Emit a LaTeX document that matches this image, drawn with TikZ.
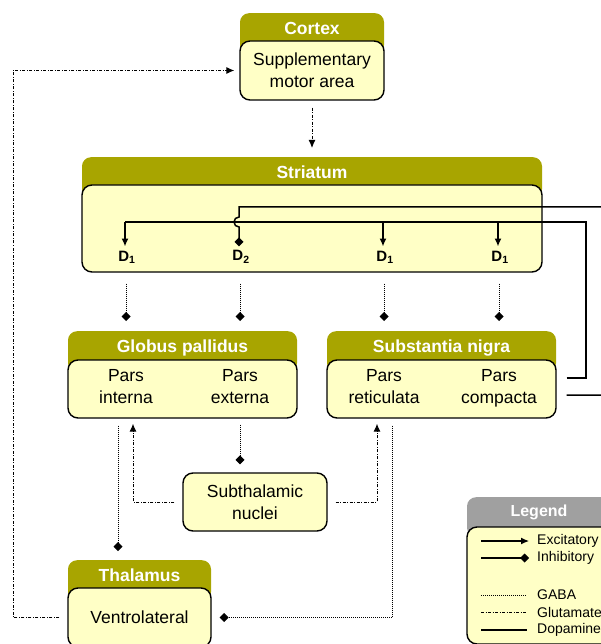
\documentclass[tikz,border=0pt]{standalone}
\usepackage{fontspec}
\setmainfont{Liberation Sans}
\usetikzlibrary{arrows.meta,positioning}
\definecolor{hdrolive}{RGB}{168,165,0}
\definecolor{boxyellow}{RGB}{255,255,198}
\definecolor{leggray}{RGB}{160,160,160}

\begin{document}
\begin{tikzpicture}[x=1pt,y=-1pt,
    hdr/.style={fill=hdrolive, rounded corners=9pt, anchor=north, inner sep=0pt,
      text height=21pt, text depth=20pt, text=white,
      font=\bfseries\fontsize{17.5}{20}\selectfont},
    regionbox/.style={draw=black, line width=1.4pt, fill=boxyellow, rounded corners=10pt,
      align=center, inner sep=0pt, font=\fontsize{17.5}{22}\selectfont},
    partlbl/.style={anchor=north, align=center, inner sep=0pt, font=\fontsize{17.5}{22}\selectfont},
    rcpt/.style={inner sep=0pt, font=\bfseries\fontsize{15}{17}\selectfont},
    legtxt/.style={anchor=west, inner sep=0pt, font=\fontsize{14}{16}\selectfont},
    gaba/.style={line width=1pt, dash pattern=on 1pt off 1pt},
    glu/.style={line width=1pt, dash pattern=on 3pt off 1.5pt on 1pt off 1.5pt},
    dop/.style={line width=1.5pt},
    exc/.style={-{Latex[length=8pt,width=7pt]}},
    inh/.style={-{Diamond[length=9pt,width=9pt]}}
  ]
  \useasboundingbox (0,0) rectangle (601,644);
  \clip (0,0) rectangle (601,644);

  \node[hdr, minimum width=144pt] (ctxhead) at (312,13) {Cortex};
  \node[regionbox, minimum width=144pt, minimum height=59pt] (ctx) at (312,70.5) {Supplementary\\motor area};

  \node[hdr, minimum width=460pt] (strhead) at (312,157) {Striatum};
  \node[regionbox, minimum width=460pt, minimum height=87pt] (str) at (312,228.5) {};
  \node[rcpt] (d1a) at (127,257) {D\textsubscript{1}};
  \node[rcpt] (d2)  at (241,257) {D\textsubscript{2}};
  \node[rcpt] (d1b) at (385,257) {D\textsubscript{1}};
  \node[rcpt] (d1c) at (500,257) {D\textsubscript{1}};

  \node[hdr, minimum width=229pt] (gphead) at (182.5,331) {Globus pallidus};
  \node[regionbox, minimum width=229pt, minimum height=58pt] (gp) at (182.5,389) {};
  \node[partlbl] (gpi) at (126,369) {Pars\\interna};
  \node[partlbl] (gpe) at (240,369) {Pars\\externa};

  \node[hdr, minimum width=229pt] (snhead) at (441.5,331) {Substantia nigra};
  \node[regionbox, minimum width=229pt, minimum height=58pt] (sn) at (441.5,389) {};
  \node[partlbl] (snr) at (384,369) {Pars\\reticulata};
  \node[partlbl] (snc) at (499,369) {Pars\\compacta};

  \node[regionbox, minimum width=144pt, minimum height=58pt] (stn) at (255,502) {Subthalamic\\nuclei};

  \node[hdr, minimum width=143pt] (thhead) at (139.5,560) {Thalamus};
  \node[regionbox, minimum width=143pt, minimum height=59pt] (th) at (139.5,617.5) {Ventrolateral};

  \node[hdr, fill=leggray, minimum width=144pt, text height=19.5pt,
    font=\bfseries\fontsize{16}{18}\selectfont] (leghead) at (539,497) {Legend};
  \node[regionbox, minimum width=144pt, minimum height=117pt] (leg) at (539,585.5) {};
  \node[legtxt] (lexc)  at (537,541) {Excitatory};
  \node[legtxt] (linh)  at (537,558) {Inhibitory};
  \node[legtxt] (lgaba) at (537,595) {GABA};
  \node[legtxt] (lglu)  at (537,612) {Glutamate};
  \node[legtxt] (ldop)  at (537,630) {Dopamine};

  \coordinate (dalow) at (586,222);
  \coordinate (daout) at (615,207);

  \draw[glu,exc] ([xshift=-8pt]th.west) -| ([xshift=-226pt]ctx.west) -- ([xshift=-5pt]ctx.west);
  \draw[glu,exc] ([yshift=-7pt]ctx.south) -- ([yshift=9pt]strhead.north);

  \draw[dop] ([shift={(10pt,11pt)}]sn.east) -| (dalow) -- ([xshift=-2pt]d1a |- dalow);
  \foreach \d in {d1a,d1b,d1c}
    \draw[dop,exc] ([xshift=-2pt]\d |- dalow) -- ([shift={(-2pt,4pt)}]\d.north);
  \draw[dop,inh] ([shift={(10pt,-6pt)}]sn.east) -| (daout) -- ([xshift=-2pt]d2 |- daout) -- ++(0,10)
    arc[start angle=90, end angle=270, radius=5pt] -- ([shift={(-2pt,4pt)}]d2.north);

  \foreach \p/\h in {gpi/gphead, gpe/gphead, snr/snhead, snc/snhead}
    \draw[gaba,inh] ([yshift=-11pt]\p |- str.south) -- ([yshift=10pt]\p |- \h.north);

  \draw[gaba,inh] ([xshift=-8pt,yshift=-7pt]gpi |- gp.south) -- ([xshift=-8pt,yshift=9pt]gpi |- thhead.north);
  \draw[gaba,inh] ([yshift=-6pt]gpe |- gp.south) -- ([yshift=8pt]gpe |- stn.north);
  \draw[glu,exc] ([xshift=-8pt]stn.west) -| ([xshift=7pt,yshift=-5pt]gpi |- gp.south);
  \draw[glu,exc] ([xshift=8pt]stn.east) -| ([xshift=-7pt,yshift=-5pt]snr |- sn.south);
  \draw[gaba,inh] ([xshift=8pt,yshift=-7pt]snr |- sn.south) |- ([xshift=8pt]th.east);

  \draw[line width=1.2pt,exc] ([xshift=-56pt]lexc.west) -- ([xshift=-8pt]lexc.west);
  \draw[line width=1.2pt,inh] ([xshift=-56pt]linh.west) -- ([xshift=-8pt]linh.west);
  \draw[gaba] ([xshift=-56pt]lgaba.west) -- ([xshift=-10pt]lgaba.west);
  \draw[glu] ([xshift=-56pt]lglu.west) -- ([xshift=-10pt]lglu.west);
  \draw[dop] ([xshift=-56pt]ldop.west) -- ([xshift=-10pt]ldop.west);
\end{tikzpicture}
\end{document}
